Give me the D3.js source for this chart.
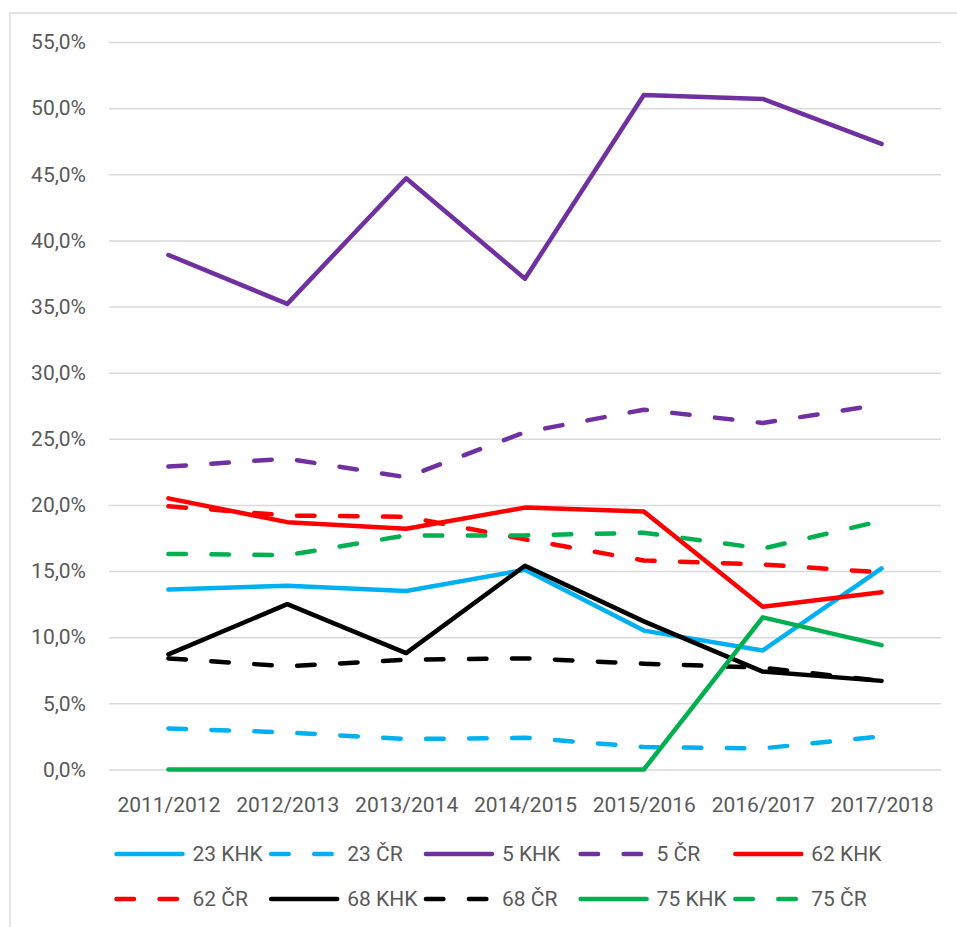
<!DOCTYPE html>
<html>
<head>
<meta charset="utf-8">
<script src="https://cdn.jsdelivr.net/npm/d3@7"></script>
<style>
  html, body { margin: 0; padding: 0; background: #fff; }
  svg { display: block; }
  text { font-family: Roboto, "Noto Sans", sans-serif; fill: #595959; }
</style>
</head>
<body>
<svg id="chart" width="957" height="927"></svg>
<script>
// School years on the category axis
const years = ["2011/2012", "2012/2013", "2013/2014", "2014/2015", "2015/2016", "2016/2017", "2017/2018"];

// Shares (%) per field code, region KHK vs. whole country ČR
const s23KHK = [13.6, 13.9, 13.5, 15.1, 10.5, 9.0, 15.2];
const s23CR  = [3.1, 2.8, 2.3, 2.4, 1.7, 1.6, 2.5];
const s5KHK  = [38.9, 35.2, 44.7, 37.1, 51.0, 50.7, 47.3];
const s5CR   = [22.9, 23.5, 22.1, 25.5, 27.2, 26.2, 27.6];
const s62KHK = [20.5, 18.7, 18.2, 19.8, 19.5, 12.3, 13.4];
const s62CR  = [19.9, 19.2, 19.1, 17.4, 15.8, 15.5, 14.9];
const s68KHK = [8.7, 12.5, 8.8, 15.4, 11.2, 7.4, 6.7];
const s68CR  = [8.4, 7.8, 8.3, 8.4, 8.0, 7.7, 6.7];
const s75KHK = [0.0, 0.0, 0.0, 0.0, 0.0, 11.5, 9.4];
const s75CR  = [16.3, 16.2, 17.7, 17.7, 17.9, 16.7, 18.8];

// Y axis ticks
const yTicks = [0, 5, 10, 15, 20, 25, 30, 35, 40, 45, 50, 55];

const series = [
  { name: "23 KHK", values: s23KHK, color: "#00B0F0", dashed: false },
  { name: "23 ČR",  values: s23CR,  color: "#00B0F0", dashed: true },
  { name: "5 KHK",  values: s5KHK,  color: "#7030A0", dashed: false },
  { name: "5 ČR",   values: s5CR,   color: "#7030A0", dashed: true },
  { name: "62 KHK", values: s62KHK, color: "#FF0000", dashed: false },
  { name: "62 ČR",  values: s62CR,  color: "#FF0000", dashed: true },
  { name: "68 KHK", values: s68KHK, color: "#000000", dashed: false },
  { name: "68 ČR",  values: s68CR,  color: "#000000", dashed: true },
  { name: "75 KHK", values: s75KHK, color: "#00B050", dashed: false },
  { name: "75 ČR",  values: s75CR,  color: "#00B050", dashed: true }
];

const svg = d3.select("#chart");
const plot = { left: 109, right: 941, top: 42, bottom: 769.5 };

const x = d3.scalePoint().domain(years).range([plot.left, plot.right]).padding(0.5);
const y = d3.scaleLinear().domain([0, 55]).range([plot.bottom, plot.top]);

// Outer chart-area frame (extends past the canvas to the right and bottom)
svg.append("rect")
  .attr("x", 10).attr("y", 13).attr("width", 1000).attr("height", 1000)
  .attr("fill", "none").attr("stroke", "#D9D9D9").attr("stroke-width", 1.5);

// Horizontal gridlines
const yAxis = d3.axisLeft(y).tickValues(yTicks)
  .tickSize(-(plot.right - plot.left))
  .tickFormat(d => d.toFixed(1).replace(".", ",") + "%")
  .tickPadding(23);

const gy = svg.append("g").attr("transform", `translate(${plot.left},0)`).call(yAxis);
gy.select(".domain").remove();
gy.selectAll(".tick line").attr("stroke", "#D9D9D9").attr("stroke-width", 1.5);
gy.selectAll(".tick text")
  .attr("font-size", 21).attr("fill", "#595959")
  .style("font-family", "Roboto, 'Noto Sans', sans-serif");

// Category axis labels
const xAxis = d3.axisBottom(x).tickSize(0).tickPadding(0);
const gx = svg.append("g").attr("transform", `translate(0,${plot.bottom})`).call(xAxis);
gx.select(".domain").remove();
gx.selectAll(".tick text")
  .attr("font-size", 21).attr("fill", "#595959")
  .attr("dy", null).attr("y", 42)
  .style("font-family", "Roboto, 'Noto Sans', sans-serif");

// Series lines
const line = d3.line().x((d, i) => x(years[i])).y(d => y(d));
const dashPattern = "17.5 25.5";

svg.append("g").selectAll("path")
  .data(series)
  .join("path")
  .attr("d", d => line(d.values))
  .attr("fill", "none")
  .attr("stroke", d => d.color)
  .attr("stroke-width", 4.5)
  .attr("stroke-linejoin", "round")
  .attr("stroke-linecap", "round")
  .attr("stroke-dasharray", d => d.dashed ? dashPattern : null);

// Legend: two rows of five columns
const legend = svg.append("g");
const colX = d3.range(5).map(i => 116.5 + i * 154.7);
const rowY = [854, 899];

const items = legend.selectAll("g")
  .data(series)
  .join("g")
  .attr("transform", (d, i) => `translate(${colX[i % 5]},${rowY[Math.floor(i / 5)]})`);

items.append("line")
  .attr("x1", 0).attr("x2", 66)
  .attr("y1", 0).attr("y2", 0)
  .attr("stroke", d => d.color)
  .attr("stroke-width", 4.5)
  .attr("stroke-linecap", "round")
  .attr("stroke-dasharray", d => d.dashed ? dashPattern : null);

items.append("text")
  .attr("x", 76).attr("y", 0).attr("dy", "0.35em")
  .attr("font-size", 21)
  .text(d => d.name);
</script>
</body>
</html>
